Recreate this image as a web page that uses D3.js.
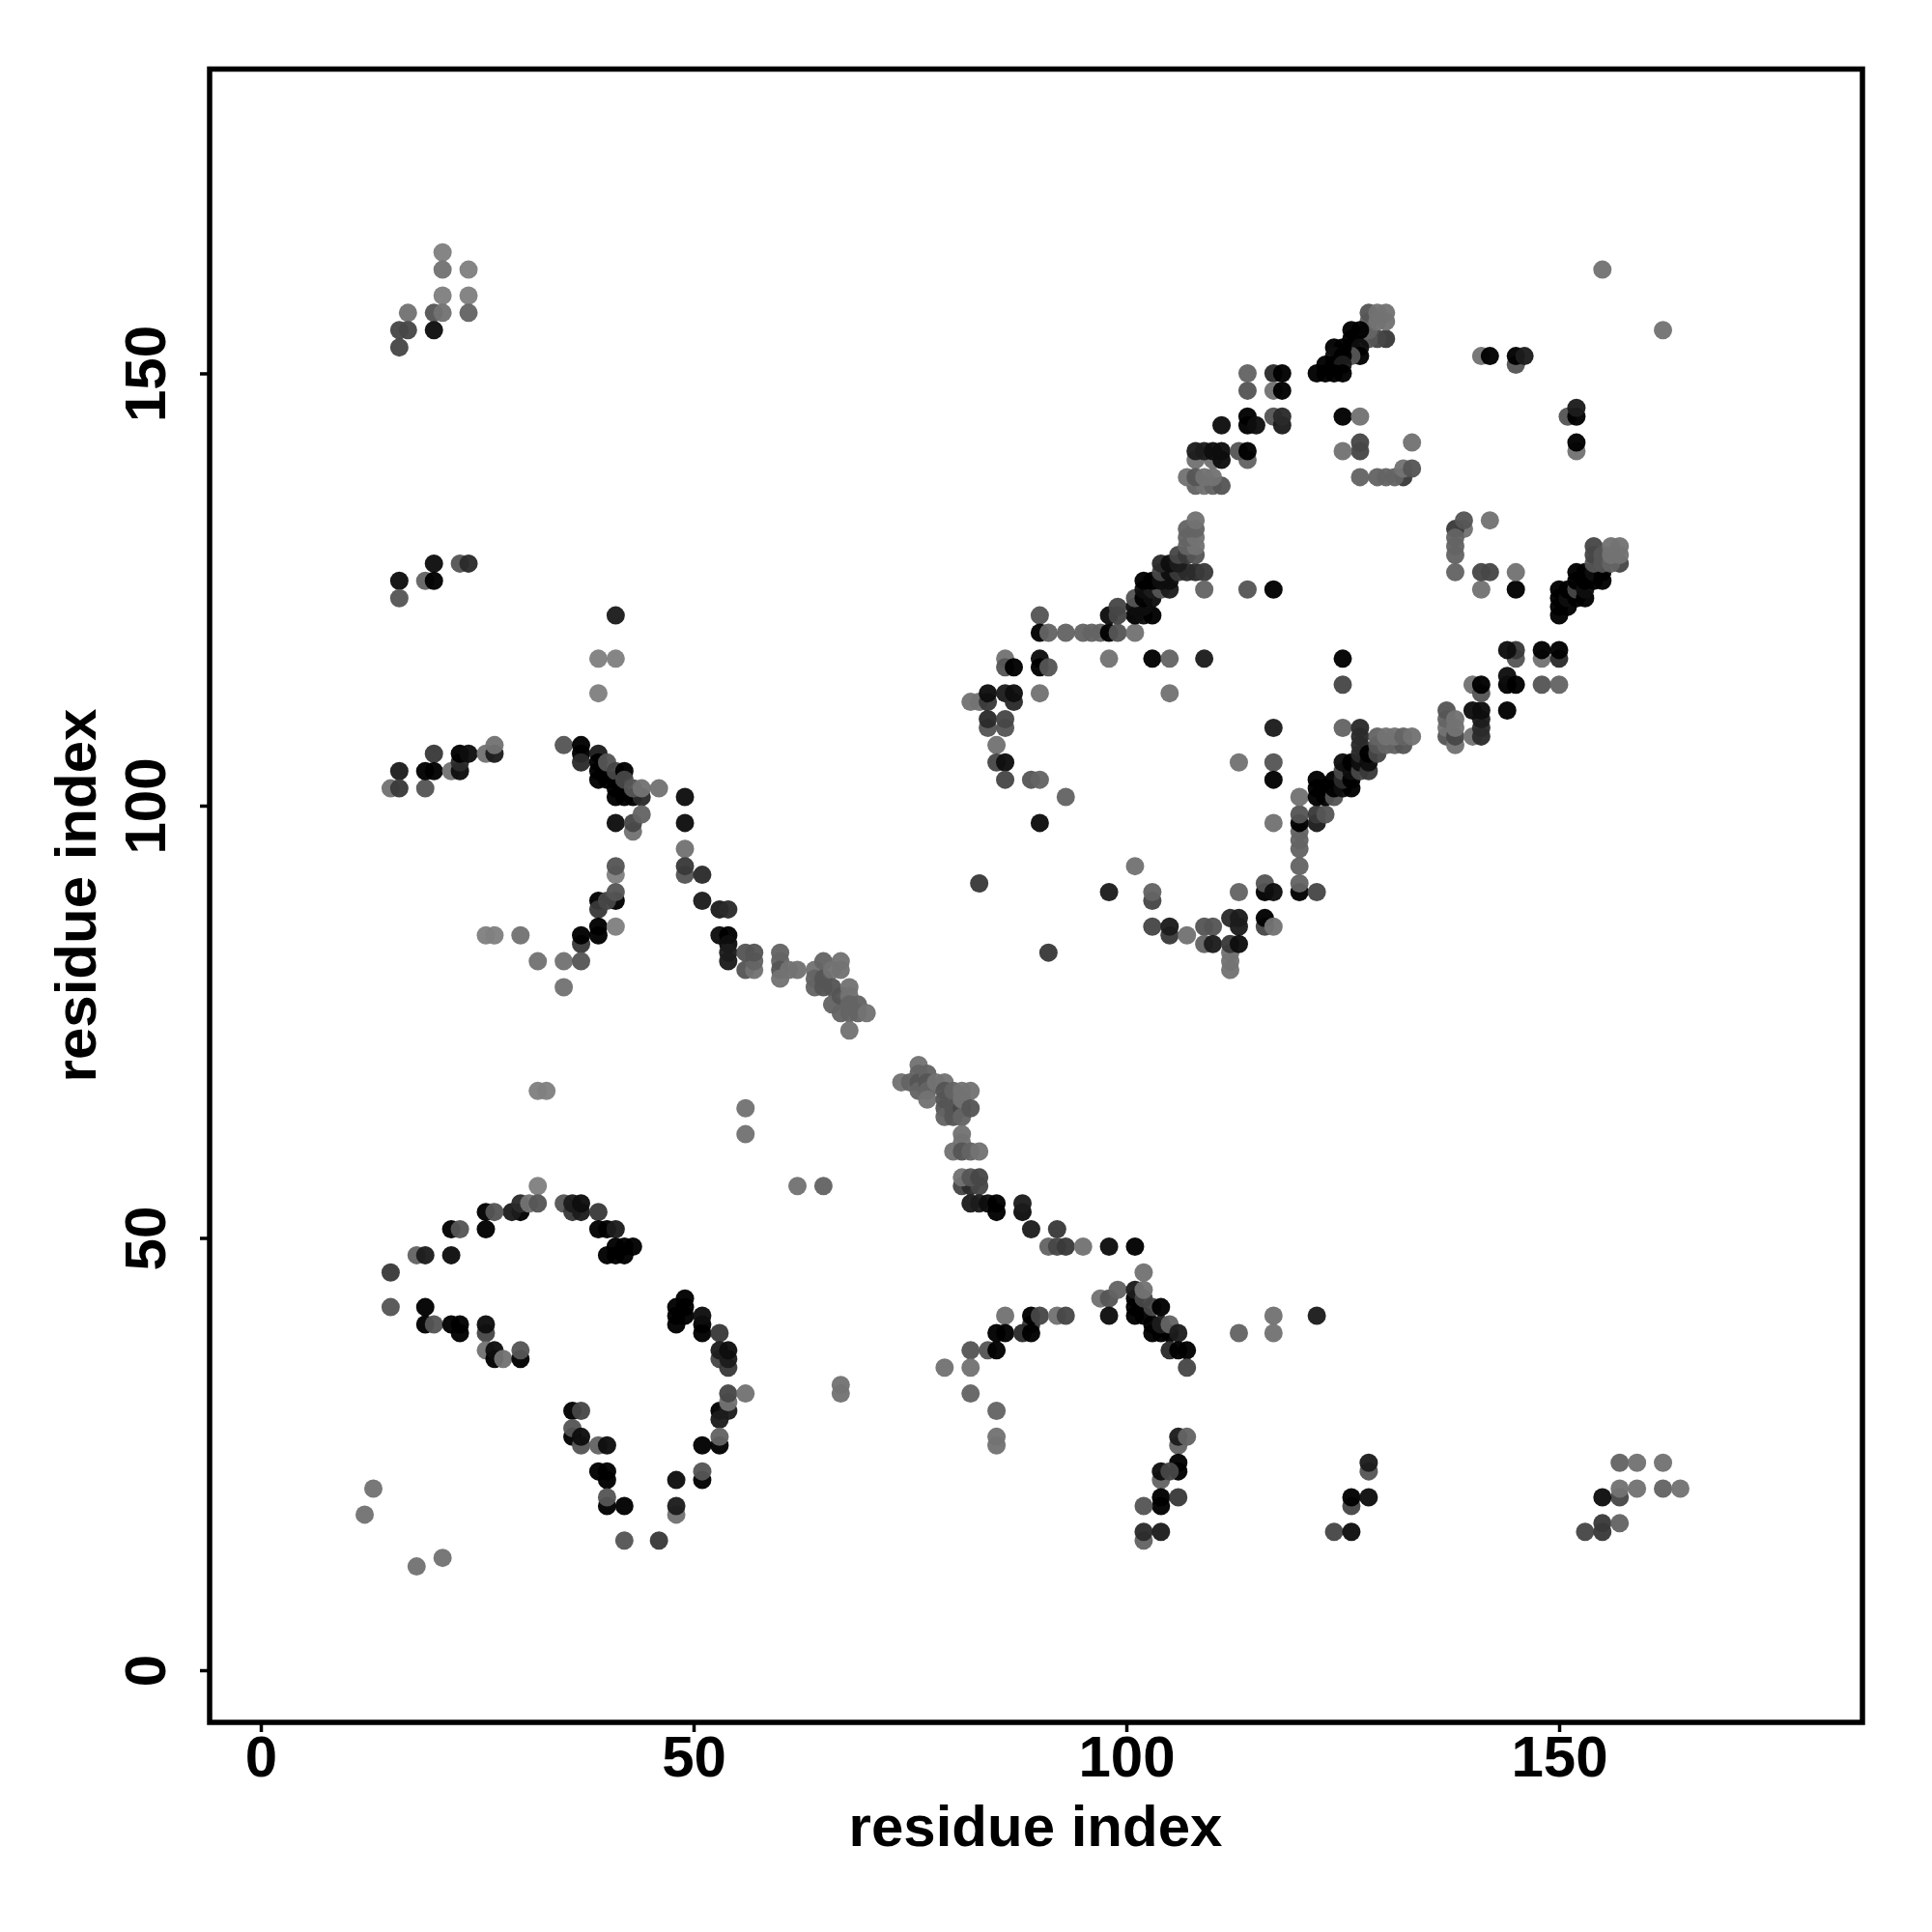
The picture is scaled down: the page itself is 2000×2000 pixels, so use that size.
<!DOCTYPE html>
<html><head><meta charset="utf-8">
<script src="https://cdn.jsdelivr.net/npm/d3@7/dist/d3.min.js"></script>
<style>html,body{margin:0;padding:0;background:#fff}svg{display:block}
text{font-family:"Liberation Sans",Arial,sans-serif;font-weight:bold;fill:#000}</style>
</head><body><svg id="c" width="2000" height="2000"></svg>
<script>
// each contact: [residue i, residue j, level]  level 0 = darkest (strong) .. 9 = lightest (weak)
const tickValues = [0, 50, 100, 150];
const xLabel = "residue index", yLabel = "residue index";
const topLeft = [[21,164,9],[21,162,8],[24,162,9],[21,159,9],[24,159,9],[17,157,8],[20,157,6],[21,157,8],[24,157,7],[16,155,5],[17,155,5],[20,155,1],[16,153,5],
[20,128,1],[23,128,6],[24,128,3],[16,126,1],[19,126,7],[20,126,0],[16,124,6],[41,122,2],[39,117,9],[41,117,9],[39,113,9]];
const leftMid = [[16,104,2],[15,102,8],[16,102,4],[19,102,6],[20,106,4],[19,104,0],[20,104,0],[22,104,8],[23,104,1],[23,105,3],[23,106,0],[24,106,1],[26,106,8],[27,106,2],[27,107,8],[35,107,6],
[37,107,0],[37,106,0],[37,105,3],[39,106,2],[39,105,0],[39,104,0],[39,103,0],[40,103,0],[40,105,6],[41,103,0],[41,104,5],[42,104,0],[41,102,0],[41,101,0],[42,101,0],[43,101,0],[44,101,3],[42,103,5],[43,102,6],[44,102,8],[46,102,8],
[49,101,1],[49,98,1],[41,98,1],[43,97,8],[43,98,5],[44,99,7],[49,95,8],[49,92,6],[49,93,4],[51,92,3],[51,89,2],[53,88,2],[54,88,3],[53,85,1],[54,85,0],[54,84,1],[54,83,2],[54,82,2],
[41,92,9],[41,93,6],[41,89,0],[39,89,0],[39,88,4],[40,89,5],[41,90,6],[37,84,4],[39,86,0],[39,85,0],[37,85,0],[41,86,9],[26,85,9],[27,85,9],[30,85,8],[32,82,8],[35,82,8],[37,82,6],[35,79,8],[32,67,9],[33,67,9],[56,65,8],[56,62,8]];
const lowLeft = [[32,56,9],[30,53,0],[29,53,2],[30,54,3],[31,54,8],[32,54,6],[26,53,0],[27,53,6],[26,51,0],[22,51,0],[23,51,6],[18,48,7],[19,48,2],[22,48,1],[15,46,4],[15,42,6],[19,42,0],[19,40,0],[20,40,6],[23,39,0],[22,40,0],[23,40,0],[26,39,5],[26,40,1],[26,37,8],[27,36,0],[27,37,1],[28,36,8],[30,36,0],[30,37,6],
[35,54,6],[36,53,4],[37,53,2],[36,54,2],[37,54,1],[39,53,4],[39,51,0],[40,51,0],[41,51,2],[40,48,0],[41,48,0],[42,48,0],[41,49,0],[42,49,0],[43,49,0],[48,40,0],[48,41,0],[48,42,0],[49,41,0],[49,42,0],[49,43,0],[51,39,0],[51,40,0],[51,41,1],[53,39,4],[53,36,5],[54,35,4],[54,36,2],[53,37,2],[54,37,1],
[53,30,0],[54,30,2],[53,29,2],[54,31,8],[54,32,5],[56,32,8],[53,26,0],[53,27,7],[51,26,0],[51,22,0],[51,23,6],[48,22,1],[48,18,8],[48,19,2],[36,30,0],[37,30,5],[36,27,0],[36,28,6],[37,26,6],[37,27,1],[39,26,7],[40,26,1],[39,23,0],[40,23,0],[40,22,0],[40,19,0],[40,20,6],[42,19,0],[42,15,6],[46,15,4],[13,21,8],[12,18,8],[18,12,8],[21,13,8],[67,33,8],[67,32,8]];
const diagonalA = [[56,81,6],[57,81,8],[57,82,7],[56,83,6],[57,83,6],[60,83,7],[60,82,7],[60,81,6],[60,80,8],[61,81,8],[62,81,8],[64,81,8],[64,80,7],[64,79,7],[65,82,7],[65,80,6],[65,79,6],[66,81,8],[66,79,6],[66,77,7],[67,82,8],[67,81,8],[67,78,6],[67,76,7],[68,79,8],[68,78,8],[68,77,7],[68,76,7],[68,74,8],[69,77,7],[69,76,7],[70,76,8]];
const diagonalB = [[74,68,8],[76,70,8],[75,68,7],[76,69,7],[76,68,6],[76,67,7],[77,69,7],[77,68,6],[77,67,7],[77,66,8],[78,68,8],[79,68,8],[79,67,6],[79,66,6],[79,65,6],[79,64,7],[80,67,7],[80,65,6],[80,64,6],[81,65,5],[81,64,7],[81,66,8],[81,67,8],[82,67,8],[82,65,6],
[81,62,8],[81,61,8],[80,60,8],[81,60,6],[82,60,7],[83,60,8],[81,56,5],[82,56,3],[83,56,5],[81,57,8],[82,57,6],[83,57,5],[82,54,2],[83,54,2],[84,54,1],[85,53,0],[85,54,0],[88,53,1],[88,54,2],[89,51,2],[92,51,4],[91,49,7],[92,49,5],[93,49,4],[95,49,8],[98,49,1],[101,49,0],[62,56,8],[65,56,7],[91,83,4]];
const lowMid = [[102,46,8],[97,43,8],[98,43,6],[99,44,7],[101,41,0],[102,41,0],[101,42,0],[101,43,0],[101,44,2],[102,43,5],[102,44,8],[103,40,0],[103,39,0],[104,39,0],[105,39,0],[103,42,5],[104,40,2],[104,42,0],[105,40,7],[106,39,2],[105,37,3],[106,37,0],[107,37,0],[107,35,5],[98,41,1],
[86,41,8],[89,40,4],[89,41,0],[90,41,5],[92,41,8],[93,41,5],[85,39,0],[86,39,0],[88,39,3],[89,39,0],[82,37,6],[84,37,6],[85,37,0],[79,35,8],[82,35,8],[82,32,7],[85,30,7],[85,27,8],[85,26,8],[113,39,7],[117,41,8],[117,39,8],[122,41,2],
[106,26,7],[106,27,2],[107,27,7],[106,24,0],[106,23,0],[104,22,7],[104,23,1],[105,23,5],[104,19,0],[104,20,0],[106,20,4],[102,19,6],[102,15,7],[102,16,3],[104,16,2]];
const lowRight = [[128,23,6],[128,24,2],[126,19,5],[126,20,0],[128,20,1],[124,16,5],[126,16,1],[157,24,7],[159,24,8],[162,24,8],[157,20,5],[155,20,1],[157,21,8],[159,21,8],[162,21,7],[164,21,8],[155,17,4],[157,17,7],[153,16,5],[155,16,4]];
const upperMid = [[90,122,6],[90,120,0],[91,120,7],[93,120,7],[95,120,7],[96,120,7],[97,120,7],[98,120,0],[99,120,6],[101,120,8],[86,117,8],[86,116,6],[87,116,0],[90,117,1],[90,116,0],[91,116,6],[98,117,8],[103,117,0],[105,117,7],[109,117,2],[125,117,0],[125,114,5],[90,113,8],[105,113,8],
[82,112,8],[83,112,8],[84,112,4],[84,113,1],[86,113,2],[87,112,3],[87,113,1],[84,109,6],[84,110,3],[86,109,6],[86,110,5],[85,107,8],[85,105,5],[86,105,1],[86,103,5],[89,103,6],[90,103,7],[93,101,7],[90,98,1],[83,91,4],[98,90,2],[101,93,8],[103,89,5],[103,90,7],
[103,86,5],[105,85,4],[105,86,2],[107,85,8],[109,86,6],[110,86,6],[109,84,7],[110,84,2],[112,87,3],[113,86,2],[113,87,2],[112,81,8],[112,82,8],[112,83,8],[112,84,4],[113,84,1],[113,90,7],[116,90,0],[116,91,6],[117,90,1],[116,86,5],[116,87,0],[117,86,8],
[120,90,0],[120,91,7],[120,93,7],[120,95,7],[120,96,7],[120,97,7],[120,98,0],[120,99,6],[120,101,8],[122,90,5],[117,109,2],[117,105,6],[113,105,8],[117,103,0],[117,98,8],[125,109,7],[117,125,0],[114,125,6]];
const sheetRight = [[122,98,2],[122,99,4],[123,99,6],[122,101,0],[122,102,0],[122,103,0],[123,101,0],[123,102,0],[124,101,6],[124,102,0],[124,103,0],[125,102,1],[126,102,0],[125,103,3],[125,104,5],[125,105,1],[126,103,0],[126,104,1],[126,105,0],[127,104,5],[127,105,1],[127,106,3],[127,107,3],[127,108,3],[127,109,3],[128,104,4],[128,105,1],[128,106,0],[129,106,5],[129,107,6],[129,108,7],[130,107,7],[131,107,7],[132,107,6],[130,108,8],[131,108,8],[132,108,7],[133,108,8],
[137,108,6],[137,109,8],[137,110,7],[137,111,6],[138,107,8],[138,108,5],[138,109,8],[138,110,8],[140,108,8],[141,108,3],[141,109,3],[141,110,2],[141,111,1],[140,111,1],[140,114,8],[141,113,6],[141,114,0],[144,111,0],[144,114,0],[144,115,1],[145,114,0],[145,117,6],[145,118,4],[144,118,1],[148,117,8],[148,118,0],[150,117,3],[150,118,0],[148,114,6],[150,114,7],[141,125,8],[145,125,0]];
const farRight = [[155,162,8],[162,155,8],[141,152,8],[142,152,0],[145,151,6],[145,152,0],[146,152,2],[151,145,6],[152,145,0],[152,146,2],[152,141,8],[152,142,0],[139,132,8],[138,132,4],[139,133,6],[142,133,8],[138,129,7],[138,130,7],[138,131,7],[138,127,7],[141,127,5],[142,127,5],[145,127,8],
[150,122,0],[150,123,0],[150,124,0],[150,125,0],[151,123,0],[151,124,1],[151,125,0],[152,124,0],[152,125,5],[152,126,0],[152,127,0],[153,124,0],[153,125,1],[153,126,0],[153,127,0],[154,126,0],[154,127,1],[155,126,0],[155,127,0],[154,128,6],[154,129,5],[154,130,5],[155,128,6],[155,129,6],[157,128,5],[156,128,7],[156,129,8],[157,129,8],[156,130,8],[157,130,8]];
const upperDiag = [[130,154,4],[129,154,5],[128,154,6],[128,155,7],[128,156,7],[128,157,6],[129,156,8],[130,156,8],[129,157,8],[130,157,8],[126,155,0],[127,155,0],[126,154,0],[126,153,0],[127,153,1],[127,152,0],[126,152,6],[124,153,0],[125,153,0],[124,152,1],[125,152,0],[123,151,0],[124,151,0],[125,151,2],[122,150,0],[123,150,0],[124,150,0],[125,150,0],
[114,150,7],[117,150,3],[118,150,0],[114,148,6],[117,148,8],[118,148,0],[117,145,6],[118,144,2],[118,145,3],[114,145,0],[114,144,0],[115,144,1],[111,144,1],[125,145,0],[127,145,8],[127,141,5],[127,142,5],[125,141,8],[133,142,8],
[108,140,8],[110,140,8],[108,141,2],[109,141,2],[110,141,1],[111,140,1],[111,141,1],[114,140,7],[113,141,6],[114,141,0],[108,137,7],[109,137,8],[110,137,7],[111,137,6],[107,138,8],[108,138,6],[109,138,8],[110,138,8],[127,138,7],[132,138,4],[129,138,7],[130,138,7],[131,138,7],[132,139,8],[133,139,6]];
const helix = [[101,122,0],[102,122,1],[103,122,0],[98,122,1],[99,122,5],[99,123,5],[101,123,1],[102,123,1],[101,124,6],[102,124,0],[103,124,1],[102,125,1],[103,125,2],[104,125,6],[105,125,2],[102,126,0],[103,126,0],[104,126,1],[105,126,1],[104,127,5],[105,127,1],[106,127,4],[107,127,3],[108,127,3],[109,127,4],[104,128,3],[105,128,1],[106,128,2],[106,129,5],[107,129,4],[108,129,6],[107,130,7],[108,130,8],[107,131,7],[108,131,8],[107,132,7],[108,132,7],[108,133,8],[109,125,7]];
const contacts = [...topLeft, ...leftMid, ...lowLeft, ...diagonalA, ...diagonalB, ...lowMid, ...lowRight, ...upperMid, ...sheetRight, ...farRight, ...upperDiag, ...helix];

const svg = d3.select("#c");
const x = d3.scaleLinear().domain([0,150]).range([270,1614]);
const y = d3.scaleLinear().domain([0,150]).range([1729,386.5]);
const shade = d3.scaleLinear().domain([0,9]).range([0,128]);
const frame = {l:217,r:1928,t:71.5,b:1783};

svg.append("g").selectAll("circle").data(contacts).join("circle")
  .attr("cx",d=>x(d[0])).attr("cy",d=>y(d[1])).attr("r",9.5)
  .attr("fill",d=>{const g=Math.round(shade(d[2]));return d3.rgb(g,g,g).formatHex();})
  .attr("fill-opacity",0.96);

svg.append("rect").attr("x",frame.l).attr("y",frame.t).attr("width",frame.r-frame.l).attr("height",frame.b-frame.t)
  .attr("fill","none").attr("stroke","#000").attr("stroke-width",5.5);

const gx = svg.append("g").attr("transform",`translate(0,${frame.b})`)
  .call(d3.axisBottom(x).tickValues(tickValues).tickSize(10).tickPadding(0).tickFormat(d3.format("d")));
gx.select(".domain").remove();
gx.selectAll("line").attr("stroke","#000").attr("stroke-width",3.5);
gx.selectAll("text").attr("font-size",60).attr("y",0).attr("dy",0).attr("transform","translate(0,56)").attr("text-anchor","middle");

const gy = svg.append("g").attr("transform",`translate(${frame.l},0)`)
  .call(d3.axisLeft(y).tickValues(tickValues).tickSize(10).tickPadding(0).tickFormat(d3.format("d")));
gy.select(".domain").remove();
gy.selectAll("line").attr("stroke","#000").attr("stroke-width",3.5);
gy.selectAll("text").attr("font-size",60).attr("x",0).attr("dy",0).attr("y",0)
  .attr("text-anchor","middle").attr("transform","translate(-46,0) rotate(-90)");

svg.append("text").attr("x",1072).attr("y",1911).attr("text-anchor","middle").attr("font-size",60).text(xLabel);
svg.append("text").attr("transform","translate(99,927) rotate(-90)").attr("text-anchor","middle").attr("font-size",60).text(yLabel);
</script></body></html>
